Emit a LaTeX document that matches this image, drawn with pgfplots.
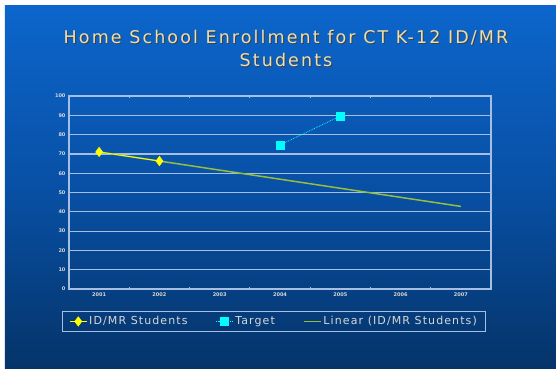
\documentclass[border=0pt]{standalone}
\usepackage{fontspec}
\setmainfont{DejaVu Sans}
\newfontfamily\titlefont[LetterSpace=12]{DejaVu Sans}
\newfontfamily\legfont[LetterSpace=10]{DejaVu Sans}
\usepackage{pgfplots}
\pgfplotsset{compat=1.18}
\definecolor{bgtop}{RGB}{12,102,204}
\definecolor{bgmid}{RGB}{8,80,165}
\definecolor{bgbot}{RGB}{5,52,105}
\definecolor{gridc}{RGB}{165,190,225}
\definecolor{titlec}{RGB}{235,222,175}
\definecolor{labc}{RGB}{215,215,215}
\definecolor{trend}{RGB}{150,190,60}
\definecolor{yel}{RGB}{255,255,0}
\definecolor{cya}{RGB}{0,255,255}
\begin{document}
\begin{tikzpicture}[x=1pt,y=1pt]
\useasboundingbox (-69,-79) rectangle (487,289);
\fill[white] (-69,-79) rectangle (487,289);
\shade[top color=bgtop, bottom color=bgbot, middle color=bgmid] (-64,-79) rectangle (487,284);
\node[text=black!75, font=\titlefont\fontsize{17.5}{20}\selectfont] at (218,250) {Home School Enrollment for CT K-12 ID/MR};
\node[text=titlec, font=\titlefont\fontsize{17.5}{20}\selectfont] at (217,251) {Home School Enrollment for CT K-12 ID/MR};
\node[text=black!75, font=\titlefont\fontsize{17.5}{20}\selectfont] at (218,228) {Students};
\node[text=titlec, font=\titlefont\fontsize{17.5}{20}\selectfont] at (217,229) {Students};
\begin{axis}[scale only axis,
  width=422pt, height=193pt,
  xmin=0.5, xmax=7.5, ymin=0, ymax=100,
  ytick={0,10,...,100},
  xtick={1,...,7},
  xticklabels={2001,2002,2003,2004,2005,2006,2007},
  minor xtick={1.5,2.5,...,6.5},
  ymajorgrids,
  grid style={gridc, line width=1.2pt},
  axis line style={gridc, line width=1.2pt},
  major tick length=0pt, minor tick length=2pt,
  minor tick style={gridc, line width=0.8pt},
  tick label style={labc, font=\fontsize{5}{6}\selectfont\bfseries},
  /pgf/number format/assume math mode=true,
  legend style={at={(axis description cs:0.486,-0.168)}, anchor=center,
    draw=gridc, line width=0.8pt, fill=none, text=labc,
    font=\legfont\fontsize{11}{12}\selectfont, legend columns=3,
    inner ysep=3pt, inner xsep=7pt,
    /tikz/every even column/.append style={column sep=26pt}},
  legend cell align=left,
]
\addplot[color=trend, line width=1.5pt, forget plot] coordinates {(1,71) (7,42.8)};
\addplot[color=yel, line width=0.8pt, mark=diamond*, mark size=4.5pt, mark options={fill=yel}] coordinates {(1,71) (2,66.3)};
\addlegendentry{ID/MR Students}
\addplot[color=cya, line width=0.8pt, densely dotted, mark=square*, mark size=4pt, mark options={solid, fill=cya}] coordinates {(4,74.6) (5,89.6)};
\addlegendentry{Target}
\addlegendimage{color=trend, line width=1.5pt}
\addlegendentry{Linear (ID/MR Students)}
\end{axis}
\end{tikzpicture}
\end{document}
